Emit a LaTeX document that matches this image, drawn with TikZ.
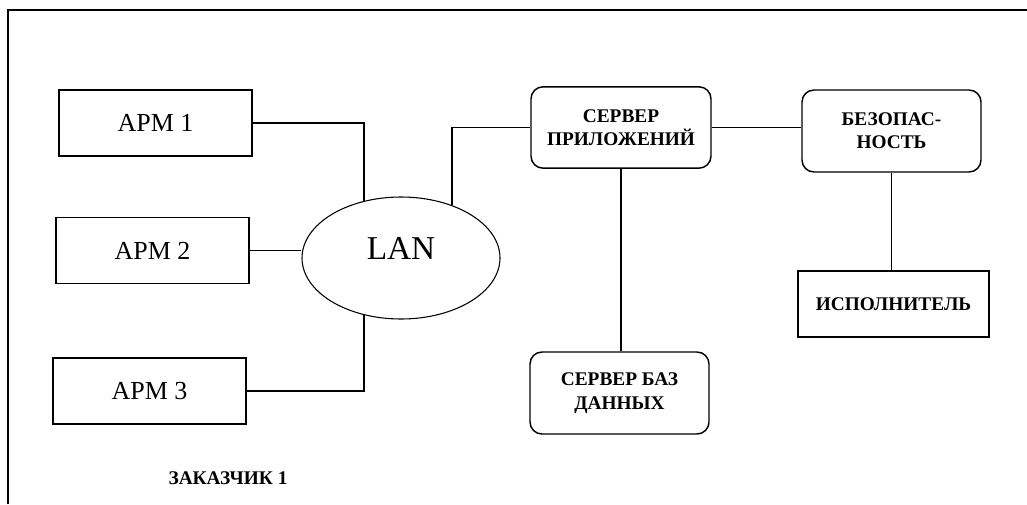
\documentclass[tikz,border=0pt]{standalone}
\usepackage{fontspec}
\setmainfont{Liberation Serif}
\usetikzlibrary{shapes.geometric}

\tikzset{every picture/.style={line width=0.75pt}}
\tikzset{
  armbox/.style={draw, line width=1.1pt, inner sep=0pt, minimum width=144.75pt, minimum height=49.5pt, font=\fontsize{19.5}{22}\selectfont},
  srvbox/.style={draw, line width=1.1pt, rounded corners=9pt, inner sep=0pt, align=center, minimum width=135pt, minimum height=61pt, font=\fontsize{14.5}{17.5}\selectfont\bfseries},
  execbox/.style={draw, line width=1.1pt, inner sep=0pt, minimum width=143.25pt, minimum height=49.5pt, font=\fontsize{14.5}{17.5}\selectfont\bfseries},
  lanshape/.style={draw, ellipse, line width=0.8pt, inner sep=0pt, minimum width=148.5pt, minimum height=91.5pt},
  conn/.style={line width=1.1pt}
}

\begin{document}
\begin{tikzpicture}[x=0.75pt,y=0.75pt,yscale=-1,xscale=1]
\useasboundingbox (0,0) rectangle (1027,504);

%Frame
\draw [line width=1.5pt] (8,504) -- (8,10) -- (1027,10) ;

%Shape: Rectangle
\node [armbox] (apm1) at (155.5,123) {АРМ 1};
%Shape: Rectangle
\node [armbox] (apm2) at (152.5,250.5) {АРМ 2};
%Shape: Rectangle
\node [armbox] (apm3) at (149.5,391) {АРМ 3};
%Shape: Ellipse
\node [lanshape, label={[font=\fontsize{25}{28}\selectfont, yshift=7pt]center:LAN}] (lan) at (401,258) {};
%Shape: Rounded Rect
\node [srvbox] (app) at (621,127.5) {СЕРВЕР\\ПРИЛОЖЕНИЙ};
%Shape: Rounded Rect
\node [srvbox, minimum width=134.25pt, minimum height=61.5pt] (sec) at (891.5,131) {БЕЗОПАС-\\НОСТЬ};
%Shape: Rounded Rect
\node [srvbox, minimum width=134.25pt, minimum height=61.5pt] (db) at (619.5,393) {СЕРВЕР БАЗ\\ДАННЫХ};
%Shape: Rectangle
\node [execbox] (exec) at (893.5,304) {ИСПОЛНИТЕЛЬ};

%Straight Lines
\draw [conn] (apm1.east) -| (lan.123) ;
%Straight Lines
\draw [conn] (apm2.east) -- (apm2.east -| lan.west) ;
%Straight Lines
\draw [conn] (apm3.east) -| (lan.237) ;
%Straight Lines
\draw [conn] (lan.46) |- (app.west) ;
%Straight Lines
\draw [conn] (app.east) -- (app.east -| sec.west) ;
%Straight Lines
\draw [conn] (app.south) -- (app.south |- db.north) ;
%Straight Lines
\draw [conn] (sec.south) -- (sec.south |- exec.north) ;

% Text Node
\node [font=\fontsize{14.5}{17.5}\selectfont\bfseries] (customer) at (228,478) {ЗАКАЗЧИК 1};

\end{tikzpicture}
\end{document}
